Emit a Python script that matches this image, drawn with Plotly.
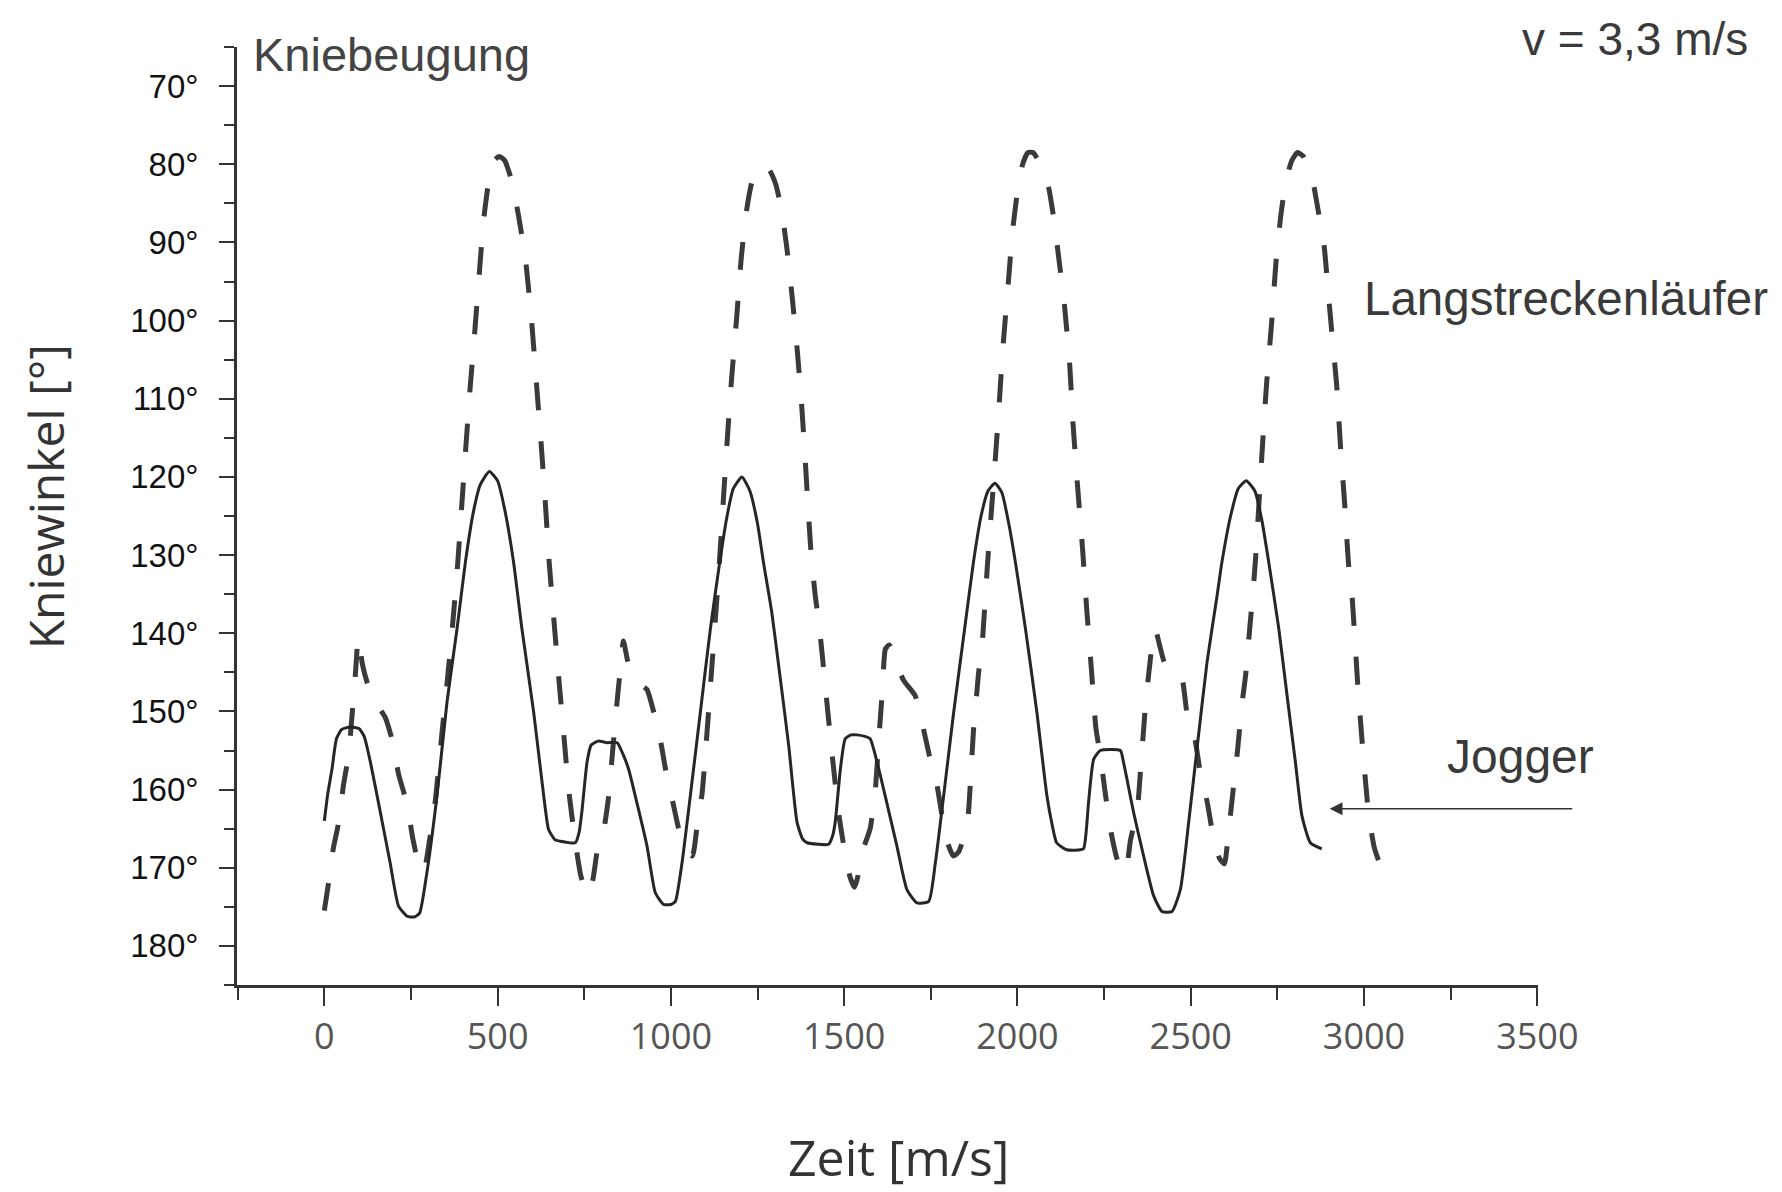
import plotly.graph_objects as go

# ---------------- data ----------------
jogger_t = [0, 10, 22, 35, 50, 75, 100, 115, 133, 162, 190, 214, 239, 260, 275, 296, 325, 354, 383, 407,
            430, 450, 476, 500, 522, 546, 570, 604, 633, 647, 665, 681, 724, 735, 743, 758, 770, 790, 816,
            845, 862, 878, 902, 931, 955, 979, 1000, 1013, 1032, 1056, 1085, 1114, 1138, 1160, 1180, 1205,
            1228, 1250, 1267, 1291, 1316, 1340, 1364, 1380, 1393, 1455, 1466, 1474, 1489, 1503, 1520, 1537,
            1560, 1575, 1595, 1623, 1652, 1681, 1710, 1744, 1763, 1787, 1816, 1845, 1873, 1895, 1915, 1935,
            1955, 1975, 1994, 2023, 2056, 2085, 2100, 2113, 2142, 2190, 2198, 2205, 2220, 2239, 2297, 2306,
            2335, 2364, 2393, 2417, 2446, 2470, 2494, 2518, 2547, 2576, 2590, 2615, 2637, 2660, 2685, 2705,
            2725, 2754, 2778, 2802, 2821, 2845, 2878]
jogger_angle = [164.0, 160.5, 157.4, 153.5, 152.3, 152.0, 152.2, 153.2, 156.5, 163.0, 169.4, 174.9, 176.2,
                176.3, 175.8, 170.6, 160.8, 148.8, 139.4, 130.9, 124.5, 121.0, 119.3, 120.5, 124.5, 130.9,
                139.4, 150.1, 160.8, 165.1, 166.4, 166.6, 166.8, 165.5, 162.9, 156.5, 154.3, 153.8, 154.0,
                154.0, 155.5, 157.4, 161.7, 167.2, 173.2, 174.7, 174.7, 174.3, 169.4, 160.8, 150.1, 139.4,
                131.8, 125.5, 121.5, 120.0, 121.8, 126.0, 130.9, 137.3, 145.9, 154.4, 164.2, 166.3, 166.8,
                167.0, 166.0, 164.2, 157.4, 153.5, 153.0, 153.0, 153.2, 153.5, 156.5, 161.7, 167.2, 172.8,
                174.5, 174.3, 169.4, 160.8, 150.1, 140.3, 130.9, 125.0, 121.8, 120.8, 122.0, 126.0, 130.9,
                139.4, 150.1, 160.8, 164.5, 166.8, 167.7, 167.6, 165.5, 161.7, 156.1, 155.0, 155.0, 156.5,
                162.9, 168.5, 173.6, 175.6, 175.6, 172.8, 164.2, 154.8, 143.7, 135.2, 130.9, 125.0, 121.5,
                120.5, 121.8, 125.5, 130.9, 139.4, 148.0, 156.5, 163.4, 166.8, 167.6]

runner_t = [0, 12, 26, 40, 55, 70, 80, 90, 98, 110, 125, 150, 176, 199, 214, 239, 255, 272, 287, 300, 320,
            340, 355, 370, 385, 396, 407, 420, 433, 447, 460, 475, 490, 505, 520, 540, 560, 580, 598, 612,
            626, 638, 648, 660, 675, 690, 705, 722, 740, 760, 775, 787, 805, 820, 832, 842, 852, 863, 875,
            890, 910, 931, 950, 965, 985, 1005, 1025, 1045, 1062, 1076, 1090, 1102, 1112, 1122, 1132, 1142,
            1152, 1163, 1175, 1190, 1203, 1218, 1235, 1252, 1268, 1285, 1302, 1318, 1334, 1350, 1365, 1376,
            1385, 1394, 1404, 1416, 1428, 1446, 1464, 1484, 1500, 1517, 1530, 1540, 1548, 1575, 1590, 1600,
            1610, 1619, 1630, 1645, 1671, 1705, 1725, 1745, 1768, 1785, 1800, 1815, 1830, 1855, 1865, 1873,
            1880, 1888, 1897, 1905, 1913, 1922, 1934, 1946, 1958, 1972, 1986, 2000, 2015, 2030, 2045, 2060,
            2075, 2090, 2105, 2115, 2136, 2151, 2160, 2174, 2188, 2200, 2214, 2226, 2240, 2252, 2268, 2285,
            2300, 2312, 2326, 2346, 2356, 2368, 2378, 2390, 2398, 2410, 2427, 2455, 2476, 2490, 2513, 2530,
            2547, 2565, 2583, 2597, 2609, 2620, 2635, 2648, 2658, 2670, 2680, 2687, 2696, 2707, 2719, 2733,
            2746, 2760, 2775, 2792, 2808, 2825, 2842, 2856, 2870, 2885, 2897, 2909, 2921, 2932, 2945, 2955,
            2965, 2972, 2983, 2997, 3013, 3030, 3054, 3070]
runner_angle = [175.5, 172.0, 167.5, 164.5, 159.5, 155.5, 150.5, 145.0, 140.5, 144.0, 146.5, 149.0, 150.8,
                154.2, 158.0, 161.9, 166.2, 169.5, 170.5, 167.5, 161.5, 152.5, 146.0, 139.0, 131.0, 124.0,
                117.0, 109.0, 102.0, 94.0, 87.0, 82.0, 79.5, 79.0, 79.5, 82.0, 86.5, 92.0, 100.0, 108.0,
                116.0, 123.5, 130.5, 137.0, 145.0, 152.5, 160.0, 166.0, 171.0, 173.5, 171.5, 168.0, 165.5,
                161.0, 155.0, 150.0, 145.5, 141.0, 143.5, 145.5, 146.5, 147.2, 150.0, 152.5, 157.5, 161.5,
                165.5, 168.0, 168.5, 164.5, 160.5, 154.0, 148.0, 142.0, 136.0, 129.5, 122.5, 115.0, 107.5,
                99.5, 92.0, 86.0, 82.0, 80.5, 80.2, 80.8, 82.5, 85.5, 90.5, 97.0, 104.0, 110.0, 116.0,
                122.5, 129.5, 135.0, 139.0, 147.0, 155.0, 163.0, 167.5, 171.2, 172.5, 171.0, 168.5, 165.0,
                160.0, 153.5, 147.5, 142.0, 141.5, 143.0, 146.0, 148.0, 151.5, 155.5, 159.5, 164.0, 167.0,
                168.5, 168.0, 164.5, 158.5, 152.5, 149.0, 145.0, 142.0, 137.0, 131.5, 126.0, 119.0, 111.5,
                103.5, 96.0, 88.5, 83.5, 80.0, 78.5, 78.5, 79.5, 81.0, 83.0, 87.0, 90.5, 98.2, 105.8, 113.0,
                121.5, 129.3, 137.0, 145.0, 152.0, 156.0, 160.0, 165.0, 168.5, 170.5, 170.5, 166.5, 162.5,
                157.0, 150.0, 145.5, 141.0, 139.5, 141.5, 144.0, 144.3, 146.0, 150.5, 153.8, 158.5, 161.5,
                166.0, 168.8, 169.5, 165.5, 161.0, 155.0, 149.0, 145.5, 139.5, 134.5, 130.5, 124.0, 116.0,
                108.0, 100.5, 92.5, 86.5, 82.0, 79.5, 78.5, 79.0, 80.5, 83.0, 86.5, 90.5, 96.5, 102.5,
                108.2, 116.0, 124.0, 131.0, 135.0, 139.6, 147.3, 155.2, 163.0, 167.5, 170.5, 172.0]

x_ticks = [0, 500, 1000, 1500, 2000, 2500, 3000, 3500]
y_ticks = [70, 80, 90, 100, 110, 120, 130, 140, 150, 160, 170, 180]
y_tick_labels = [f"{v}°" for v in y_ticks]

# ---------------- figure ----------------
fig = go.Figure()
fig.add_trace(go.Scatter(x=runner_t, y=runner_angle, mode="lines", name="Langstreckenläufer",
                         line=dict(color="#3a3a3a", width=5, dash="28px,31px", shape="spline", smoothing=0.5),
                         showlegend=False))
fig.add_trace(go.Scatter(x=jogger_t, y=jogger_angle, mode="lines", name="Jogger",
                         line=dict(color="#262626", width=3, shape="spline", smoothing=0.5),
                         showlegend=False))

axis_col = "#333333"
fig.update_layout(
    width=1782, height=1192,
    margin=dict(l=229, r=252, t=39, b=215, pad=0),
    paper_bgcolor="white", plot_bgcolor="white",
    font=dict(family="Liberation Sans, Arial, sans-serif", color="#222"),
    xaxis=dict(range=[-252, 3502], tickvals=x_ticks, ticktext=[str(v) for v in x_ticks],
               ticks="outside", ticklen=18, tickwidth=2.2, tickcolor=axis_col,
               showline=True, linecolor=axis_col, linewidth=2.8, showgrid=False, zeroline=False,
               tickfont=dict(family="Open Sans, Noto Sans, sans-serif", size=36, color="#555"),
               ticklabelstandoff=0,
               minor=dict(dtick=250, tick0=0, ticklen=12, tickwidth=2, tickcolor=axis_col,
                          ticks="outside", showgrid=False)),
    yaxis=dict(range=[185, 65], tickvals=y_ticks, ticktext=y_tick_labels,
               ticks="outside", ticklen=15, tickwidth=2.2, tickcolor=axis_col,
               showline=True, linecolor=axis_col, linewidth=2.8, showgrid=False, zeroline=False,
               tickfont=dict(family="Liberation Sans, Arial, sans-serif", size=33, color="#111"),
               ticklabelstandoff=14,
               minor=dict(dtick=5, tick0=0, ticklen=10, tickwidth=2, tickcolor=axis_col,
                          ticks="outside", showgrid=False)),
)

ann = []
ann.append(dict(text="Kniebeugung", xref="paper", yref="paper", x=0.0104, y=0.9925,
                xanchor="left", yanchor="middle", showarrow=False,
                font=dict(family="Liberation Sans, Arial, sans-serif", size=47, color="#444")))
ann.append(dict(text="v = 3,3 m/s", xref="paper", yref="paper", x=1.1626, y=1.0085,
                xanchor="right", yanchor="middle", showarrow=False,
                font=dict(family="Liberation Sans, Arial, sans-serif", size=46, color="#3a3a3a")))
ann.append(dict(text="Langstreckenläufer", xref="paper", yref="paper", x=0.8647, y=0.7319,
                xanchor="left", yanchor="middle", showarrow=False,
                font=dict(family="Liberation Sans, Arial, sans-serif", size=47.5, color="#3a3a3a")))
ann.append(dict(text="Jogger", xref="paper", yref="paper", x=0.9285, y=0.2431,
                xanchor="left", yanchor="middle", showarrow=False,
                font=dict(family="Liberation Sans, Arial, sans-serif", size=48, color="#3a3a3a")))
ann.append(dict(text="", x=2901, y=162.45, xref="x", yref="y", ax=244, ay=0,
                showarrow=True, arrowhead=2, arrowsize=1.6, arrowwidth=1.6, arrowcolor="#333"))
ann.append(dict(text="Kniewinkel [°]", xref="paper", yref="paper", x=-0.1475, y=0.520,
                xanchor="center", yanchor="middle", textangle=-90, showarrow=False,
                font=dict(family="Open Sans, Noto Sans, sans-serif", size=48, color="#333")))
ann.append(dict(text="Zeit [m/s]", xref="paper", yref="paper", x=0.5085, y=-0.1837,
                xanchor="center", yanchor="middle", showarrow=False,
                font=dict(family="Open Sans, Noto Sans, sans-serif", size=50, color="#333")))
fig.update_layout(annotations=ann)

fig.write_html("out.html")
